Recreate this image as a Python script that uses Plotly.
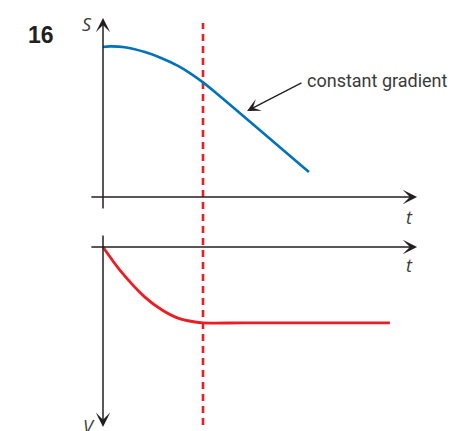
import plotly.graph_objects as go

# ---- data (arbitrary units) ----
# top panel: displacement S against time t
t_S = [0, 0.22, 0.7, 1.34, 1.82, 2.4, 2.78, 3.2, 3.58, 6.59]
S = [5.0, 5.02, 4.99, 4.83, 4.65, 4.37, 4.13, 3.82, 3.5, 0.83]

# bottom panel: velocity V against time t (V axis points downwards)
t_V = [0, 0.54, 1.34, 1.89, 2.4, 2.94, 3.2, 4.5, 9.18]
V = [0, 0.77, 1.67, 2.1, 2.37, 2.5, 2.53, 2.53, 2.53]

t_switch = 3.2  # time at which V becomes constant

# axis extents (t, S, V units)
t_axis = [-0.42, 10.05]
S_axis = [-0.43, 5.97]
V_axis = [-0.43, 6.0]

question_label = "16"
note_text = "constant gradient"
note_tip = (4.61, 2.87)
note_tail = (6.4, 3.83)

BLUE = "#0072bc"
RED = "#ed1c24"
INK = "#231f20"
TXT = "#3a3a3a"

fig = go.Figure()

fig.add_trace(go.Scatter(x=t_S, y=S, mode="lines", xaxis="x", yaxis="y",
                         line=dict(color=BLUE, width=2.6, shape="spline", smoothing=0.9),
                         hoverinfo="skip", showlegend=False))
fig.add_trace(go.Scatter(x=t_V, y=V, mode="lines", xaxis="x", yaxis="y2",
                         line=dict(color=RED, width=2.8, shape="spline", smoothing=0.8),
                         hoverinfo="skip", showlegend=False))

# dashed vertical marker
fig.add_shape(type="line", xref="x", yref="paper", x0=t_switch, x1=t_switch,
              y0=0.0142, y1=0.9645, layer="below",
              line=dict(color=RED, width=2.6, dash="7px,5px"))

ann = []
def axis_arrow(x0, y0, x1, y1, yref):
    ann.append(dict(x=x1, y=y1, ax=x0, ay=y0, xref="x", yref=yref,
                    axref="x", ayref=yref, text="", showarrow=True,
                    arrowhead=3, arrowsize=1.6, arrowwidth=1.5, arrowcolor=INK))

# top axes
axis_arrow(t_axis[0], 0, t_axis[1], 0, "y")
axis_arrow(0, S_axis[0], 0, S_axis[1], "y")
# bottom axes
axis_arrow(t_axis[0], 0, t_axis[1], 0, "y2")
axis_arrow(0, V_axis[0], 0, V_axis[1], "y2")

# note arrow
ann.append(dict(x=note_tip[0], y=note_tip[1], ax=note_tail[0], ay=note_tail[1],
                xref="x", yref="y", axref="x", ayref="y", text="", showarrow=True,
                arrowhead=3, arrowsize=1.7, arrowwidth=1.3, arrowcolor=INK))

ital = dict(family="Open Sans", size=18, color=TXT, style="italic")
ann += [
    dict(x=-0.5, y=5.77, xref="x", yref="y", text="S", showarrow=False, font=ital),
    dict(x=9.82, y=-0.67, xref="x", yref="y", text="t", showarrow=False, font=ital),
    dict(x=9.82, y=0.6, xref="x", yref="y2", text="t", showarrow=False, font=ital),
    dict(x=-0.45, y=5.95, xref="x", yref="y2", text="V", showarrow=False, font=ital),
    dict(x=8.78, y=3.9, xref="x", yref="y", text=note_text, showarrow=False,
         font=dict(family="Roboto", size=18, color=TXT)),
    dict(x=0.0401, y=0.9716, xref="paper", yref="paper", text=question_label,
         showarrow=False, font=dict(family="Liberation Sans", size=23, color=INK, weight="bold")),
]

fig.update_layout(
    width=449, height=423,
    margin=dict(l=0, r=0, t=0, b=0),
    paper_bgcolor="white", plot_bgcolor="white",
    xaxis=dict(range=[-3.04, 11.328], visible=False, fixedrange=True),
    yaxis=dict(range=[-7.8, 6.3], visible=False, fixedrange=True),
    yaxis2=dict(range=[6.1333, -7.9667], visible=False, overlaying="y", fixedrange=True),
    annotations=ann,
    showlegend=False,
)

fig.write_html("out.html", config={"displayModeBar": False})
